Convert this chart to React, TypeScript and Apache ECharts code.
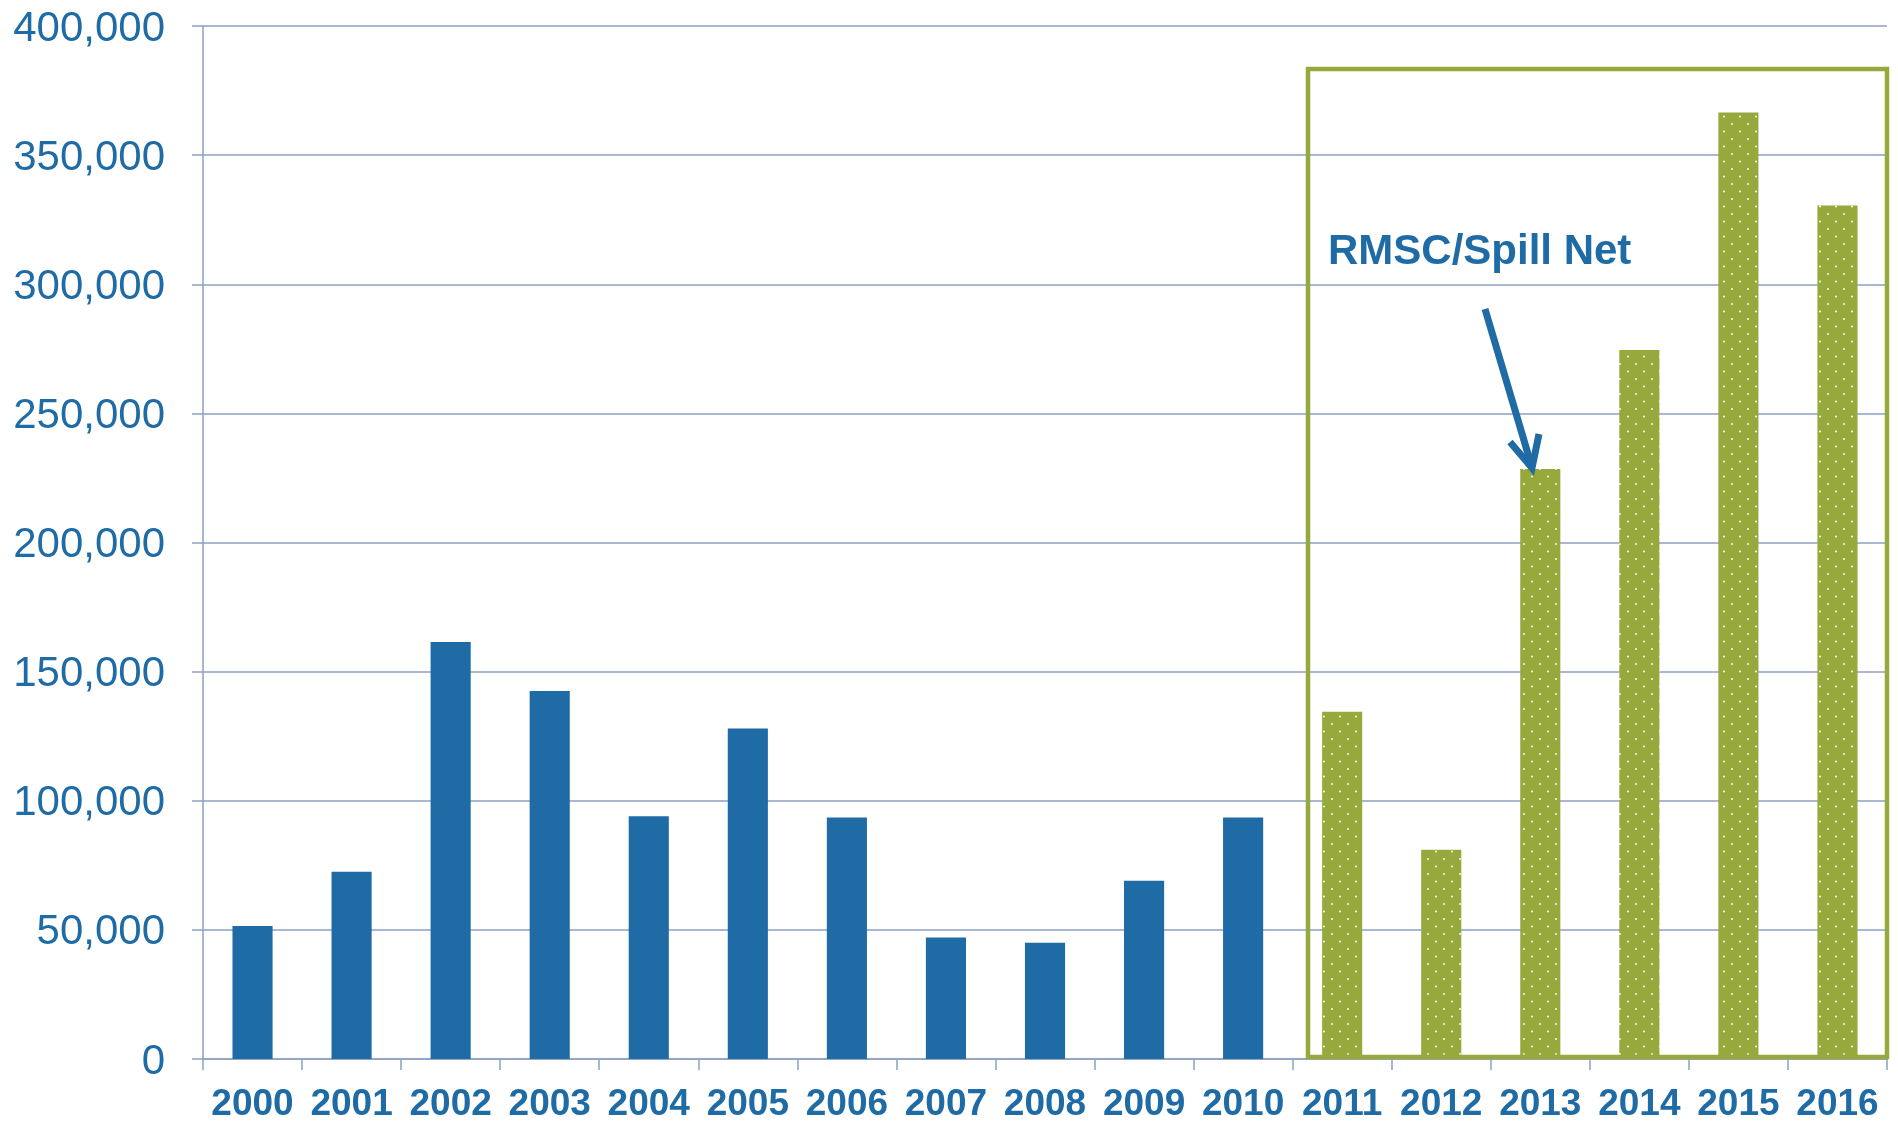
import React, { useEffect, useRef } from "react";
import * as echarts from "echarts";

const years = ["2000","2001","2002","2003","2004","2005","2006","2007","2008","2009","2010","2011","2012","2013","2014","2015","2016"];
const values = [51500,72500,161500,142500,94000,128000,93500,47000,45000,69000,93500,134500,81000,228500,274500,366500,330500];
const rmscYears = ["2011","2012","2013","2014","2015","2016"];
const yTicks = { min: 0, max: 400000, interval: 50000 };
const annotationText = "RMSC/Spill Net";

const BLUE = "#1F6BA5";
const GREEN = "#97A83C";
const AXIS = "#8DA0C0";
const FONT = "Liberation Sans, Arial, sans-serif";

function makePattern() {
  const c = document.createElement("canvas");
  c.width = 16;
  c.height = 15;
  const ctx = c.getContext("2d")!;
  ctx.fillStyle = GREEN;
  ctx.fillRect(0, 0, 16, 15);
  ctx.fillStyle = "rgba(255,255,255,0.85)";
  ctx.beginPath();
  ctx.arc(4, 4, 1.1, 0, Math.PI * 2);
  ctx.fill();
  ctx.beginPath();
  ctx.arc(12, 11.5, 1.1, 0, Math.PI * 2);
  ctx.fill();
  return c;
}

export default function App() {
  const ref = useRef<HTMLDivElement>(null);
  useEffect(() => {
    if (!ref.current) return;
    const chart = echarts.init(ref.current, undefined, { renderer: "svg" });
    const pattern = makePattern();
    const data = years.map((y, i) => ({
      value: values[i],
      itemStyle: rmscYears.includes(y)
        ? { color: { image: pattern, repeat: "repeat" } as any }
        : { color: BLUE },
    }));
    chart.setOption({
      animation: false,
      grid: { left: 203, right: 11, top: 26, bottom: 63, containLabel: false },
      xAxis: {
        type: "category",
        data: years,
        axisLine: { show: true, lineStyle: { color: AXIS, width: 1.5 } },
        axisTick: { show: true, length: 11, alignWithLabel: false, lineStyle: { color: AXIS, width: 1.5 } },
        axisLabel: { interval: 0, margin: 25, color: BLUE, fontSize: 37, fontWeight: "bold", fontFamily: FONT },
        splitLine: { show: false },
      },
      yAxis: {
        type: "value",
        min: yTicks.min,
        max: yTicks.max,
        interval: yTicks.interval,
        axisLine: { show: true, lineStyle: { color: AXIS, width: 1.5 } },
        axisTick: { show: true, length: 11, lineStyle: { color: AXIS, width: 1.5 } },
        axisLabel: {
          margin: 38,
          color: BLUE,
          fontSize: 42,
          fontFamily: FONT,
          formatter: (v: number) => v.toLocaleString("en-US"),
        },
        splitLine: { show: true, lineStyle: { color: AXIS, width: 1.5 } },
      },
      series: [
        {
          type: "bar",
          data,
          barWidth: "40.5%",
        },
      ],
      graphic: [
        {
          type: "rect",
          shape: { x: 1308, y: 69, width: 579, height: 988 },
          style: { fill: "none", stroke: GREEN, lineWidth: 4.5 },
          z: 100,
        },
        {
          type: "text",
          x: 1328,
          y: 249,
          style: {
            text: annotationText,
            fill: BLUE,
            font: `bold 42px ${FONT}`,
            verticalAlign: "middle",
            align: "left",
          },
          z: 101,
        },
        {
          type: "polyline",
          shape: { points: [[1485, 309], [1531, 464]] },
          style: { stroke: BLUE, lineWidth: 7, fill: "none" },
          z: 101,
        },
        {
          type: "polyline",
          shape: { points: [[1510, 442], [1532, 468], [1539, 434]] },
          style: { stroke: BLUE, lineWidth: 7, fill: "none", lineJoin: "miter" },
          z: 101,
        },
      ],
    });
    return () => chart.dispose();
  }, []);
  return <div ref={ref} style={{ position: "fixed", left: 0, top: 0, width: 1898, height: 1122 }} />;
}
